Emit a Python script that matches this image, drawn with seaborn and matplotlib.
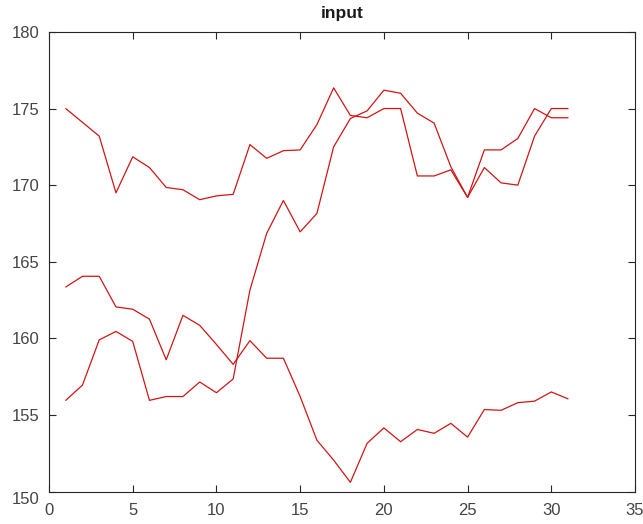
import pandas as pd
import seaborn as sns
import matplotlib
matplotlib.use("Agg")
import matplotlib.pyplot as plt
from matplotlib.transforms import ScaledTranslation

# data (x = 1..31)
x_vals = list(range(1, 32))

series_a = [175.0, 174.1, 173.2, 169.5, 171.85, 171.15, 169.85, 169.7, 169.05, 169.3,
            169.4, 172.65, 171.75, 172.25, 172.3, 173.95, 176.35, 174.55, 174.4, 175.0,
            175.0, 170.6, 170.6, 171.0, 169.2, 171.15, 170.15, 170.0, 173.2, 175.0, 175.0]

series_b = [163.35, 164.05, 164.05, 162.05, 161.9, 161.25, 158.6, 161.5, 160.85, 159.6,
            158.3, 159.85, 158.7, 158.7, 156.2, 153.35, 152.05, 150.6, 153.15, 154.15,
            153.25, 154.05, 153.8, 154.45, 153.55, 155.35, 155.3, 155.8, 155.9, 156.5, 156.05]

series_c = [155.95, 156.95, 159.9, 160.45, 159.8, 155.95, 156.2, 156.2, 157.15, 156.45,
            157.35, 163.15, 166.85, 169.0, 166.95, 168.15, 172.5, 174.35, 174.85, 176.2,
            176.0, 174.7, 174.05, 171.2, 169.2, 172.3, 172.3, 173.05, 175.0, 174.4, 174.4]

x_ticks = [0, 5, 10, 15, 20, 25, 30, 35]
y_ticks = [150, 155, 160, 165, 170, 175, 180]

# long format table for seaborn
df = pd.DataFrame({
    "x": x_vals * 3,
    "y": series_a + series_b + series_c,
    "s": ["a"] * 31 + ["b"] * 31 + ["c"] * 31,
})

sns.set_style("ticks")
plt.rcParams["font.family"] = ["Liberation Sans", "DejaVu Sans"]

fig = plt.figure(figsize=(6.43, 5.24), dpi=100)
ax = fig.add_axes([0.0762, 0.062, 0.9114, 0.877])

sns.lineplot(data=df, x="x", y="y", hue="s", units="s", estimator=None,
             palette=["#d01515"] * 3, linewidth=0.9, legend=False, ax=ax)

ax.set_xlim(0, 35)
ax.set_ylim(150, 180)
ax.set_xticks(x_ticks)
ax.set_yticks(y_ticks)
ax.set_xlabel("")
ax.set_ylabel("")
ax.set_title("input", fontsize=12.5, fontweight="bold", pad=10, color="#1a1a1a")

# box with inward ticks on all sides
for sp in ax.spines.values():
    sp.set_visible(True)
    sp.set_color("#262626")
    sp.set_linewidth(0.8)
ax.tick_params(direction="in", top=True, right=True, length=5, width=0.8,
               labelsize=12, colors="#262626", labelcolor="#444444")
ax.tick_params(axis="x", pad=8)
ax.tick_params(axis="y", pad=7)

# the bottom y label sits a little below its tick in the original
ylabs = ax.get_yticklabels()
ylabs[0].set_transform(ylabs[0].get_transform() +
                       ScaledTranslation(0, -6 / 100, fig.dpi_scale_trans))

fig.savefig("out.png", dpi=100)
